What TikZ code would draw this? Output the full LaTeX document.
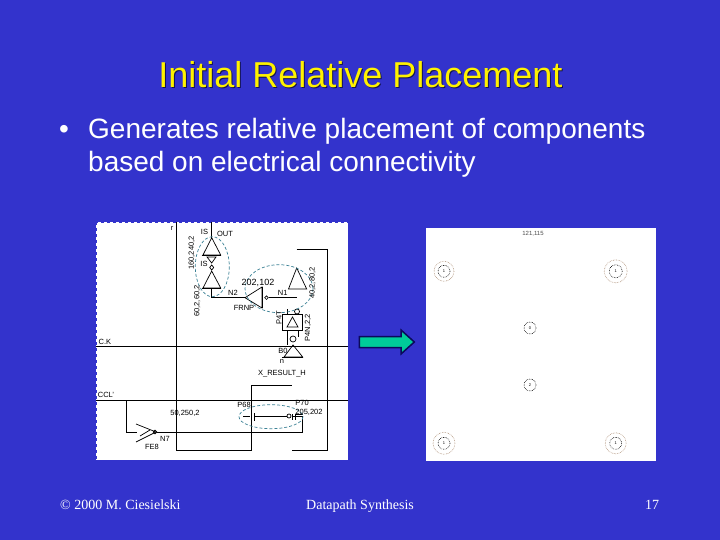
\documentclass[tikz,border=0pt]{standalone}
\usepackage{fontspec}
\setmainfont{Liberation Sans}
\newfontfamily\footfont{Liberation Serif}
\usetikzlibrary{positioning,arrows.meta}
\definecolor{slideblue}{RGB}{51,51,204}
\definecolor{arrowgreen}{RGB}{0,204,153}
\definecolor{arrownavy}{RGB}{10,10,90}
\definecolor{groupteal}{RGB}{60,130,150}
\definecolor{ringtan}{RGB}{170,140,115}
\tikzset{
    wire/.style={draw=black, line width=1pt},
    gate/.style={draw=black, line width=0.7pt},
    tinylabel/.style={font=\fontsize{7.5}{8}\selectfont, text=black, inner sep=0pt},
    grouploop/.style={draw=groupteal, densely dashed, line width=0.7pt},
    outerring/.style={draw=ringtan, densely dotted, line width=0.6pt},
    innerring/.style={draw=black, densely dotted, line width=0.6pt, circle, inner sep=0pt, font=\fontsize{4}{5}\selectfont},
    footer/.style={font=\footfont\fontsize{14}{16}\selectfont, text=white, inner sep=0pt, anchor=base west}
}
\begin{document}
\begin{tikzpicture}[x=1pt, y=-1pt]
    \useasboundingbox (0,0) rectangle (720,540);
    \fill[slideblue] (0,0) rectangle (720,540);

    % Title and bullet
    \node[text=black!60!slideblue, font=\fontsize{36}{40}\selectfont, inner sep=0pt, anchor=base] (titleshadow) at (361.5,89) {Initial Relative Placement};
    \node[text=yellow, font=\fontsize{36}{40}\selectfont, inner sep=0pt, anchor=base] (title) at (360.5,88) {Initial Relative Placement};
    \node[text=white, font=\fontsize{28}{34}\selectfont, inner sep=0pt, anchor=base west] (bullet) at (59,139) {•};
    \node[text=white, font=\fontsize{28}{34}\selectfont, inner sep=0pt, anchor=base west] (lineone) at (88,139) {Generates relative placement of components};
    \node[text=white, font=\fontsize{28}{34}\selectfont, inner sep=0pt, anchor=base west] (linetwo) at (88,172) {based on electrical connectivity};

    % Schematic panel
    \fill[white] (96,222) rectangle (348,460);
    \draw[slideblue, dashed, line width=0.8pt] (96,222) rectangle (348,460);

    % Wires
    \draw[wire] (96,346.7) -- (348,346.7);
    \draw[wire] (96,400.7) -- (348,400.7);
    \draw[wire] (176.7,222) -- (176.7,450) -- (251.7,450) -- (251.7,385) -- (291.7,385);
    \draw[wire] (296.7,249) -- (327.3,249) -- (327.3,450) -- (292,450);
    \draw[wire] (126.7,400.7) -- (126.7,432) -- (137,432);
    \draw[wire] (157,432) -- (302.7,432) -- (302.7,416.7) -- (293,416.7);
    \draw[wire] (211.7,222) -- (211.7,237.7);
    \draw[wire] (211.7,288) -- (211.7,297.7) -- (245,297.7);
    \draw[wire] (269,297.7) -- (296.7,297.7);

    % Gates of the upper chain
    \draw[gate] (211.7,237.7) -- (203,255) -- (220.7,255) -- cycle;
    \draw[gate] (201.7,255) -- (221,255);
    \draw[gate] (207,257) -- (216,257) -- (211.7,263) -- cycle;
    \draw[gate] (211.7,265) -- (209.7,267.5) -- (211.7,270) -- (213.7,267.5) -- cycle;
    \draw[gate] (211.7,271) -- (203,288) -- (220.7,288) -- cycle;
    \draw[gate] (201.7,288) -- (221,288);
    \draw[gate] (245,297.7) -- (262,287) -- (262,308) -- cycle;
    \draw[gate] (262.7,286.7) -- (262.7,307.7);
    \draw[gate] (266.5,297.7) circle (1.8);
    \draw[gate] (296.7,268) -- (288.5,289) -- (306.7,289) -- cycle;

    % Small cell and the gate below it
    \draw[gate, line width=1pt] (282.7,314.3) rectangle (302,330);
    \draw[gate] (292.5,317) -- (287,327) -- (298,327) -- cycle;
    \draw[gate] (287,309) -- (287,314.3);
    \draw[gate] (297,311.5) circle (2.5);
    \draw[gate] (287,330) -- (287,345) (298,330) -- (298,337);
    \draw[gate] (293,339) circle (3);
    \draw[gate] (293,345) -- (284,357) -- (302.7,357) -- cycle;
    \draw[gate] (282,357.3) -- (303,357.3);

    % Transistors and the inverter at the bottom
    \draw[gate] (243,416.7) -- (250,416.7);
    \draw[gate] (251.7,413) -- (251.7,420);
    \draw[gate, line width=1pt] (254.5,413) -- (254.5,421);
    \draw[gate] (255,416) -- (287,416);
    \draw[gate] (289,416) circle (2);
    \draw[gate, line width=1pt] (292,414) -- (292,420) (295,414) -- (295,420);
    \draw[gate] (295,414) -- (302.7,414);
    \draw[gate] (136,424) -- (156,432) -- (136,442);
    \draw[gate] (140,436) -- (150,430);
    \draw[gate] (155,432) circle (1.8);

    % Dashed groups
    \draw[grouploop] (212.3,266.7) ellipse (17 and 30);
    \draw[grouploop] (279,288.7) ellipse (34 and 24);
    \draw[grouploop] (271,416.7) ellipse (32 and 12);

    % Labels of the schematic
    \node[tinylabel] (lblr) at (172,228) {r};
    \node[tinylabel] (lblout) at (225,234) {OUT};
    \node[tinylabel] (lbls) at (204.5,232) {IS};
    \node[tinylabel] (lbla) at (204,264) {IS};
    \node[tinylabel, rotate=90] (lbltop) at (191.7,253) {160,240,2};
    \node[tinylabel, rotate=90] (lblmid) at (197.3,301) {60,2,60,2};
    \node[tinylabel, rotate=90] (lblright) at (312.5,283) {40,2,80,2};
    \node[tinylabel, rotate=90] (lblcell) at (308,328) {P4N,2,2};
    \node[tinylabel, rotate=90] (lblcelltwo) at (279,318) {P4T};
    \node[tinylabel] (lblnb) at (233,293) {N2};
    \node[tinylabel, font=\fontsize{9}{10}\selectfont] (lblsize) at (258,283) {202,102};
    \node[tinylabel] (lblna) at (282.7,293) {N1};
    \node[tinylabel] (lblfrn) at (244,308) {FRNP};
    \node[tinylabel] (lblck) at (105,342) {C.K};
    \node[tinylabel] (lblccl) at (106,395) {CCL'};
    \node[tinylabel] (lblres) at (282,373.5) {X\_RESULT\_H};
    \node[tinylabel] (lblw) at (185,413) {50,250,2};
    \node[tinylabel] (lblpa) at (244,405) {P68};
    \node[tinylabel] (lblpb) at (302,403) {P70};
    \node[tinylabel] (lblpc) at (309,412) {205,202};
    \node[tinylabel] (lblnc) at (165,439) {N7};
    \node[tinylabel] (lblfe) at (152,447) {FE8};
    \node[tinylabel] (lblb) at (282,361) {n};
    \node[tinylabel] (lblbf) at (283,351) {B0};

    % Arrow between the two panels
    \draw[draw=arrownavy, fill=arrowgreen, line width=1.5pt, line join=miter]
        (359.3,336.7) -- (401,336.7) -- (401,330) -- (414.3,342) -- (401,354) -- (401,347.7) -- (359.3,347.7) -- cycle;

    % Placement panel
    \fill[white] (426,228) rectangle (656,461);
    \node[tinylabel, font=\fontsize{6}{7}\selectfont, text=black!70] (lblplace) at (533,234) {121,115};
    \foreach \px/\py/\ro/\ri/\ringname in {444/271.3/10/6/one, 615.7/271.3/11.5/6.5/two, 444/443.3/11/6/three, 615.7/443.3/10.5/6/four}{
        \draw[outerring] (\px,\py) circle (\ro);
        \node[innerring, minimum size=2*\ri] (ring\ringname) at (\px,\py) {1};
    }
    \node[innerring, minimum size=12] (ringfive) at (530,328) {0};
    \node[innerring, minimum size=12] (ringsix) at (530,385) {2};

    % Footer
    \node[footer] (footleft) at (60,509) {© 2000 M. Ciesielski};
    \node[footer] (footmid) at (306,509) {Datapath Synthesis};
    \node[footer] (footright) at (645,509) {17};
\end{tikzpicture}
\end{document}
